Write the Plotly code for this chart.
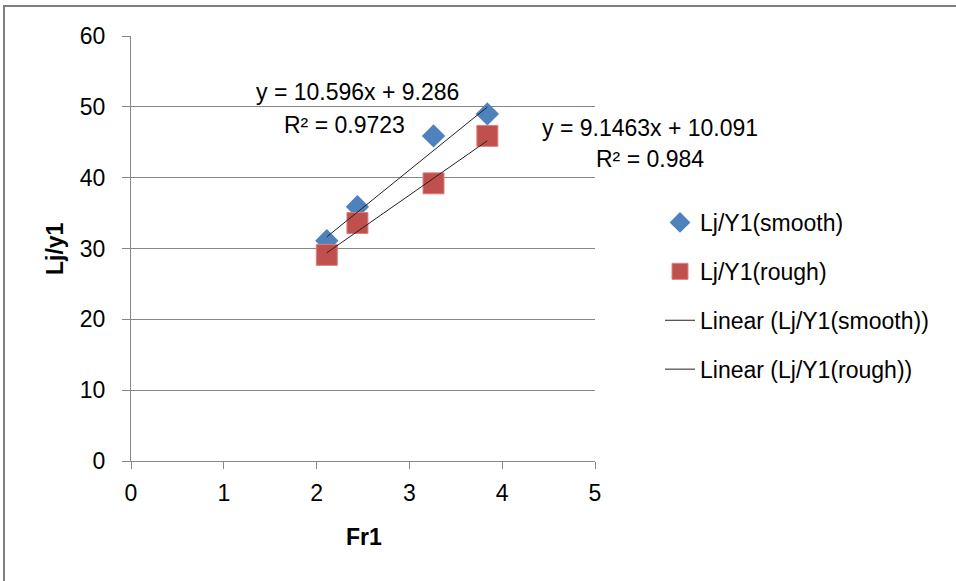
import plotly.graph_objects as go

# Data
fr1 = [2.11, 2.44, 3.26, 3.84]
lj_smooth = [31.1, 35.9, 45.9, 49.0]
lj_rough = [29.1, 33.6, 39.2, 45.9]

# Trendline coefficients as printed on the chart
smooth_slope, smooth_intercept, smooth_r2 = 10.596, 9.286, "0.9723"
rough_slope, rough_intercept, rough_r2 = 9.1463, 10.091, "0.984"

x_ticks = [0, 1, 2, 3, 4, 5]
y_ticks = [0, 10, 20, 30, 40, 50, 60]

FONT = "Liberation Sans"
FS = 23
BLUE = "#4F81BD"
RED = "#C0504D"

xmin, xmax = min(fr1), max(fr1)
tx = [xmin, xmax]

fig = go.Figure()
fig.add_trace(go.Scatter(
    x=fr1, y=lj_smooth, mode="markers", name="Lj/Y1(smooth)",
    marker=dict(symbol="diamond", size=18, color=BLUE, line=dict(width=0)),
    legendgroup="a"))
fig.add_trace(go.Scatter(
    x=fr1, y=lj_rough, mode="markers", name="Lj/Y1(rough)",
    marker=dict(symbol="square", size=21, color=RED, line=dict(width=1, color="#D9827F")),
    legendgroup="b"))
fig.add_trace(go.Scatter(
    x=tx, y=[smooth_slope * v + smooth_intercept for v in tx], mode="lines",
    name="Linear (Lj/Y1(smooth))", line=dict(color="#222222", width=1),
    legendgroup="c"))
fig.add_trace(go.Scatter(
    x=tx, y=[rough_slope * v + rough_intercept for v in tx], mode="lines",
    name="Linear (Lj/Y1(rough))", line=dict(color="#222222", width=1),
    legendgroup="d"))

L, R, T, B = 131, 595, 36, 461
W, H = 956, 581


def px(xp):
    return (xp - L) / (R - L)


def py(yp):
    return (B - yp) / (B - T)


ann_font = dict(family=FONT, size=FS, color="#000000")
annotations = [
    dict(text=f"y = {smooth_slope}x + {smooth_intercept}", x=px(357), y=py(92)),
    dict(text=f"R² = {smooth_r2}", x=px(344), y=py(125)),
    dict(text=f"y = {rough_slope}x + {rough_intercept}", x=px(650), y=py(128)),
    dict(text=f"R² = {rough_r2}", x=px(650), y=py(159)),
]
for a in annotations:
    a.update(xref="paper", yref="paper", showarrow=False, font=ann_font,
             xanchor="center", yanchor="middle")
annotations.append(dict(text="<b>Lj/y1</b>", xref="paper", yref="paper",
                        x=px(55), y=py(249), textangle=-90, showarrow=False,
                        font=dict(family=FONT, size=FS, color="#000000"),
                        xanchor="center", yanchor="middle"))
annotations.append(dict(text="<b>Fr1</b>", xref="paper", yref="paper",
                        x=px(364), y=py(537), showarrow=False,
                        font=dict(family=FONT, size=FS, color="#000000"),
                        xanchor="center", yanchor="middle"))

fig.update_layout(
    width=W, height=H,
    margin=dict(l=L, r=W - R, t=T, b=H - B, autoexpand=False),
    paper_bgcolor="white", plot_bgcolor="white",
    font=dict(family=FONT, size=FS, color="#000000"),
    showlegend=True,
    legend=dict(x=px(660), y=py(201), xanchor="left", yanchor="top",
                font=dict(family=FONT, size=FS), tracegroupgap=16,
                bgcolor="rgba(0,0,0,0)", itemwidth=30),
    annotations=annotations,
    shapes=[dict(type="rect", xref="paper", yref="paper",
                 x0=px(4), x1=px(1200), y0=py(800), y1=py(6),
                 line=dict(color="#7F7F7F", width=2), layer="below")],
)
fig.update_xaxes(
    range=[0, 5], tickvals=x_ticks, showgrid=False, zeroline=False,
    showline=True, linecolor="#868686", linewidth=1,
    ticks="outside", ticklen=7, tickcolor="#868686", ticklabelstandoff=4,
)
fig.update_yaxes(
    range=[0, 60], tickvals=y_ticks, showgrid=True, gridcolor="#868686", gridwidth=1,
    zeroline=False, showline=True, linecolor="#868686", linewidth=1,
    ticks="outside", ticklen=8, tickcolor="#868686", ticklabelstandoff=12,
)

fig.write_html(
    "out.html",
    config={"displayModeBar": False},
    post_script="document.body.style.margin='0';document.body.style.overflow='hidden';",
)
